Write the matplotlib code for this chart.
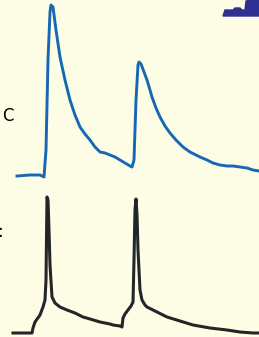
import matplotlib
matplotlib.use('Agg')
import matplotlib.pyplot as plt
from matplotlib.patches import Polygon

# calcium trace (blue), sampled along the time axis
ca_time = [17, 30, 40, 44, 46, 48, 50, 51, 53, 56, 60, 65, 70, 75, 80, 85, 90, 95,
           100, 105, 110, 115, 120, 125, 130, 132, 134, 136, 138, 139, 141, 144,
           147, 150, 152, 156, 160, 165, 170, 176, 183, 190, 200, 207, 213, 220,
           227, 233, 240, 247, 253, 259]
ca_level = [176, 175, 175, 177, 150, 60, 12, 5, 7, 30, 57, 80, 100, 115, 127, 134,
            140, 147, 152, 153, 155, 157, 160, 163, 166, 167, 160, 100, 65, 62, 64,
            72, 80, 90, 97, 108, 117, 126, 133, 140, 147, 152, 157, 160, 163, 165,
            166, 166, 167, 168, 170, 171]

# membrane potential (black)
vm_time = [13, 25, 32, 33, 35, 40, 43, 45, 46, 47, 48, 49, 50, 52, 55, 60, 67, 75,
           83, 90, 100, 110, 113, 120, 122, 123, 125, 128, 131, 133, 134, 135, 136,
           137, 138, 140, 142, 145, 147, 155, 167, 180, 193, 210, 227, 240, 253, 259]
vm_level = [333, 333, 333, 328, 322, 315, 307, 300, 280, 197, 200, 230, 265, 297,
            303, 307, 310, 313, 317, 319, 322, 324, 325, 326, 327, 318, 314, 310,
            306, 302, 260, 210, 199, 215, 250, 290, 300, 305, 307, 311, 317, 321,
            325, 328, 330, 332, 333, 333]

fig = plt.figure(figsize=(2.59, 3.37), dpi=100)
fig.patch.set_facecolor('#FDFDE6')
ax = fig.add_axes([0, 0, 1, 1])
ax.set_facecolor('#FDFDE6')
ax.set_xlim(0, 259)
ax.set_ylim(337, 0)
ax.axis('off')

ax.plot(ca_time, ca_level, color='#1668B4', lw=2.1, solid_joinstyle='round')
ax.plot(vm_time, vm_level, color='#232629', lw=2.2, solid_joinstyle='round')

ax.text(2, 116, 'C', fontsize=12, va='center', ha='left', color='black')
ax.text(-2, 232, ':', fontsize=12, va='center', ha='left', color='black')

# corner of the dark blue shape
ax.add_patch(Polygon([(223, 16), (225, 10), (233, 10), (235, 8), (240, 8), (242, 10),
                      (245, 10), (246, 1), (252, 0), (259, 0), (259, 16)],
                     closed=True, color='#2E3192'))

fig.savefig('out.png', dpi=100, facecolor=fig.get_facecolor())
